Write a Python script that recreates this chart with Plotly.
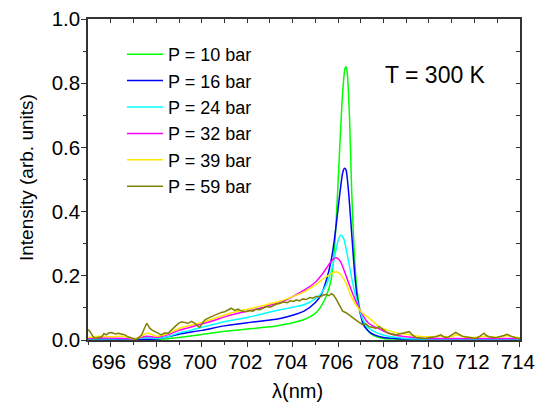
import plotly.graph_objects as go

# ---------------- data ----------------
x_p10 = [695, 696, 697, 698, 698.5, 699, 700, 701, 702, 703, 703.5, 704, 704.5, 705, 705.25, 705.5,
         705.7, 705.8, 705.9, 706.0, 706.1, 706.2, 706.3, 706.35, 706.4, 706.5, 706.6, 706.7, 706.8,
         706.9, 707.0, 707.1, 707.2, 707.4, 707.7, 708, 708.5, 709, 710, 711, 712, 713, 714]
y_p10 = [0.002, 0.001, 0.001, 0.002, 0.004, 0.008, 0.017, 0.027, 0.034, 0.041, 0.047, 0.054, 0.064,
         0.083, 0.105, 0.14, 0.19, 0.25, 0.35, 0.49, 0.64, 0.77, 0.845, 0.851, 0.835, 0.70, 0.46,
         0.29, 0.18, 0.12, 0.08, 0.058, 0.042, 0.022, 0.010, 0.005, 0.003, 0.002, 0.001, 0.001,
         0.001, 0.001, 0.001]

x_p16 = [695, 696, 697, 698, 698.5, 699, 700, 701, 702, 703, 703.5, 704, 704.5, 705, 705.25, 705.5,
         705.7, 705.85, 706.0, 706.1, 706.2, 706.28, 706.35, 706.45, 706.55, 706.65, 706.75, 706.85,
         707.0, 707.1, 707.25, 707.4, 707.6, 708, 708.5, 709, 710, 711, 712, 713, 714]
y_p16 = [0.004, 0.003, 0.002, 0.003, 0.010, 0.018, 0.030, 0.044, 0.054, 0.062, 0.068, 0.077, 0.090,
         0.117, 0.14, 0.19, 0.25, 0.32, 0.41, 0.47, 0.52, 0.535, 0.53, 0.47, 0.38, 0.28, 0.19, 0.13,
         0.075, 0.05, 0.034, 0.024, 0.016, 0.008, 0.005, 0.003, 0.002, 0.002, 0.002, 0.002, 0.002]

x_p24 = [695, 696, 697, 697.6, 698, 698.5, 699, 699.5, 700, 700.5, 701, 701.5, 702, 702.5, 703,
         703.5, 704, 704.5, 705, 705.25, 705.5, 705.7, 705.85, 706.0, 706.12, 706.25, 706.35, 706.5,
         706.65, 706.8, 706.95, 707.1, 707.3, 707.5, 707.8, 708.2, 708.6, 709, 710, 711, 712, 713, 714]
y_p24 = [0.004, 0.004, 0.003, 0.008, 0.005, 0.010, 0.022, 0.030, 0.040, 0.048, 0.057, 0.064, 0.070,
         0.078, 0.087, 0.095, 0.102, 0.110, 0.128, 0.145, 0.175, 0.215, 0.26, 0.31, 0.327, 0.315,
         0.285, 0.23, 0.175, 0.13, 0.092, 0.062, 0.040, 0.030, 0.020, 0.012, 0.008, 0.005, 0.003,
         0.003, 0.003, 0.003, 0.003]

x_p32 = [695, 696, 697, 697.6, 698, 698.5, 699, 699.5, 700, 700.5, 701, 701.5, 702, 702.5, 703,
         703.5, 704, 704.5, 705, 705.25, 705.5, 705.7, 705.91, 706.1, 706.3, 706.47, 706.64, 706.82,
         707.08, 707.3, 707.5, 707.81, 708.2, 708.6, 709, 709.5, 710, 711, 712, 713, 714]
y_p32 = [0.005, 0.006, 0.004, 0.012, 0.008, 0.016, 0.030, 0.040, 0.050, 0.060, 0.072, 0.082, 0.090,
         0.098, 0.108, 0.118, 0.135, 0.155, 0.180, 0.200, 0.225, 0.245, 0.256, 0.245, 0.21, 0.177,
         0.145, 0.115, 0.078, 0.055, 0.045, 0.035, 0.022, 0.014, 0.010, 0.007, 0.005, 0.005, 0.005,
         0.005, 0.005]

x_p39 = [695, 695.5, 696, 696.5, 697, 697.3, 697.6, 698, 698.5, 699, 699.5, 700, 700.5, 701, 701.5,
         702, 702.5, 703, 703.5, 704, 704.5, 705, 705.25, 705.5, 705.7, 705.91, 706.1, 706.35,
         706.55, 706.79, 707.1, 707.37, 707.81, 708.2, 708.6, 709, 709.5, 710, 710.5, 711, 711.2,
         711.5, 712, 712.5, 713, 713.4, 714]
y_p39 = [0.008, 0.012, 0.010, 0.012, 0.004, 0.010, 0.022, 0.012, 0.020, 0.036, 0.046, 0.055, 0.066,
         0.078, 0.088, 0.096, 0.104, 0.113, 0.122, 0.135, 0.150, 0.172, 0.185, 0.198, 0.207, 0.213,
         0.205, 0.177, 0.140, 0.109, 0.082, 0.068, 0.041, 0.030, 0.022, 0.018, 0.012, 0.010, 0.012,
         0.010, 0.016, 0.010, 0.008, 0.012, 0.008, 0.013, 0.006]

x_p59 = [695.0, 695.1, 695.2, 695.3, 695.45, 695.6, 695.7, 695.8, 695.9, 696.04, 696.2, 696.33,
         696.5, 696.62, 696.75, 696.92, 697.05, 697.14, 697.25, 697.36, 697.47, 697.58, 697.65,
         697.72, 697.83, 697.94, 698.05, 698.15, 698.23, 698.35, 698.52, 698.65, 698.82, 698.95,
         699.11, 699.25, 699.4, 699.55, 699.7, 699.8, 699.91, 700.02, 700.13, 700.28, 700.43,
         700.58, 700.72, 700.86, 701.01, 701.15, 701.3, 701.45, 701.6, 701.75, 701.96, 702.1,
         702.25, 702.4, 702.55, 702.69, 702.85, 703.0, 703.15, 703.3, 703.42, 703.6, 703.75, 703.9,
         704.05, 704.16, 704.3, 704.45, 704.6, 704.75, 704.89, 705.05, 705.2, 705.35, 705.47,
         705.6, 705.7, 705.8, 705.91, 706.05, 706.2, 706.35, 706.5, 706.65, 706.79, 706.93, 707.08,
         707.23, 707.37, 707.5, 707.65, 707.81, 707.95, 708.1, 708.25, 708.4, 708.54, 708.7,
         708.83, 708.98, 709.13, 709.28, 709.42, 709.6, 709.86, 710.05, 710.3, 710.52, 710.65,
         710.81, 711.0, 711.18, 711.3, 711.47, 711.6, 711.76, 712.06, 712.25, 712.42, 712.52,
         712.64, 712.93, 713.15, 713.3, 713.44, 713.6, 713.81, 714.0]
y_p59 = [0.033, 0.025, 0.012, 0.005, 0.008, 0.010, 0.020, 0.016, 0.022, 0.023, 0.019, 0.021,
         0.018, 0.016, 0.010, 0.005, 0.003, 0.002, 0.008, 0.016, 0.035, 0.052, 0.045,
         0.036, 0.030, 0.026, 0.020, 0.018, 0.016, 0.022, 0.021, 0.030, 0.041, 0.050,
         0.057, 0.055, 0.052, 0.058, 0.052, 0.045, 0.039, 0.052, 0.062, 0.068, 0.073,
         0.078, 0.083, 0.086, 0.088, 0.094, 0.099, 0.092, 0.096, 0.090, 0.088, 0.092,
         0.090, 0.096, 0.094, 0.099, 0.104, 0.102, 0.108, 0.112, 0.114, 0.118, 0.116, 0.122,
         0.120, 0.125, 0.122, 0.128, 0.126, 0.132, 0.130, 0.136, 0.134, 0.140, 0.142,
         0.138, 0.144, 0.140, 0.128, 0.108, 0.090, 0.085, 0.078, 0.070, 0.062, 0.055, 0.048,
         0.050, 0.041, 0.040, 0.036, 0.042, 0.034, 0.026, 0.020, 0.018, 0.016, 0.019,
         0.021, 0.024, 0.026, 0.015, 0.008, 0.006, 0.005, 0.008, 0.010, 0.016, 0.010,
         0.007, 0.015, 0.024, 0.018, 0.012, 0.010, 0.008, 0.005, 0.012, 0.021, 0.014,
         0.010, 0.007, 0.010, 0.014, 0.018, 0.012, 0.007, 0.005]

series_names = ["P = 10 bar", "P = 16 bar", "P = 24 bar", "P = 32 bar", "P = 39 bar", "P = 59 bar"]
series_x = [x_p10, x_p16, x_p24, x_p32, x_p39, x_p59]
series_y = [y_p10, y_p16, y_p24, y_p32, y_p39, y_p59]
series_colors = ["#00FF00", "#0000FF", "#00FFFF", "#FF00FF", "#FFE800", "#808000"]
series_shapes = ["spline", "spline", "spline", "spline", "spline", "linear"]

x_ticks = [696, 698, 700, 702, 704, 706, 708, 710, 712, 714]
y_ticks = [0.0, 0.2, 0.4, 0.6, 0.8, 1.0]

FONT = "Arial, Liberation Sans, sans-serif"

W, H, L, R, T, B = 536, 403, 88, 16, 19, 63
pw, ph = W - L - R, H - T - B


def px_to_paper(px, py):
    return (px - L) / pw, (H - B - py) / ph


fig = go.Figure()
for name, xs, ys, col, shp in zip(series_names, series_x, series_y, series_colors, series_shapes):
    line = dict(color=col, width=1.5, shape=shp)
    if shp == "spline":
        line["smoothing"] = 0.6
    fig.add_trace(go.Scatter(x=xs, y=ys, mode="lines", name=name, line=line))

axis_col = "#333333"
leg_x, leg_y = px_to_paper(122, 36)
t_x, t_y = px_to_paper(435, 75)
ax_x, ax_y = px_to_paper(297, 391)
ay_x, ay_y = px_to_paper(26, 178)

fig.update_layout(
    width=W, height=H,
    margin=dict(l=L, r=R, t=T, b=B),
    paper_bgcolor="white", plot_bgcolor="white",
    font=dict(family=FONT, color="black", size=19),
    showlegend=True,
    legend=dict(
        x=leg_x, y=leg_y, xanchor="left", yanchor="top",
        bgcolor="rgba(0,0,0,0)", font=dict(size=18, family=FONT),
        itemwidth=36, tracegroupgap=0,
    ),
    xaxis=dict(
        range=[694.995, 714.005], tickvals=x_ticks, ticks="outside", ticklen=5, tickwidth=1.3,
        tickcolor=axis_col, showline=True, linecolor=axis_col, linewidth=1.5,
        showgrid=False, zeroline=False, automargin=False, ticklabeloverflow="allow",
        ticklabelstandoff=-2, ticklabelshift=-2,
        minor=dict(dtick=1, ticks="outside", ticklen=3, tickwidth=1.2, tickcolor=axis_col),
        tickfont=dict(size=20.5),
    ),
    yaxis=dict(
        range=[0, 1.0], tickvals=y_ticks, tickformat=".1f", ticks="outside", ticklen=5,
        tickwidth=1.3, tickcolor=axis_col, showline=True, linecolor=axis_col, linewidth=1.5,
        showgrid=False, zeroline=False, automargin=False, ticklabelstandoff=-3,
        minor=dict(dtick=0.1, ticks="outside", ticklen=3, tickwidth=1.2, tickcolor=axis_col),
        tickfont=dict(size=20.5),
    ),
    xaxis2=dict(
        overlaying="x", side="top", range=[694.995, 714.005], dtick=1, tick0=695, ticks="inside",
        ticklen=4, tickwidth=1.2, tickcolor=axis_col, showticklabels=False, showline=True,
        linecolor=axis_col, linewidth=1.5, showgrid=False, zeroline=False, automargin=False,
    ),
    yaxis2=dict(
        overlaying="y", side="right", range=[0, 1.0], dtick=0.1, tick0=0, ticks="inside",
        ticklen=4, tickwidth=1.2, tickcolor=axis_col, showticklabels=False, showline=True,
        linecolor=axis_col, linewidth=1.5, showgrid=False, zeroline=False, automargin=False,
    ),
)
fig.add_annotation(x=t_x, y=t_y, xref="paper", yref="paper", text="T = 300 K", showarrow=False,
                   font=dict(size=23, family=FONT, color="black"), xanchor="center", yanchor="middle")
fig.add_annotation(x=ax_x, y=ax_y, xref="paper", yref="paper", text="λ(nm)", showarrow=False,
                   font=dict(size=20, family=FONT, color="black"), xanchor="center", yanchor="middle")
fig.add_annotation(x=ay_x, y=ay_y, xref="paper", yref="paper", text="Intensity (arb. units)",
                   showarrow=False, textangle=-90,
                   font=dict(size=19, family=FONT, color="black"), xanchor="center", yanchor="middle")

# invisible trace to activate the mirror axes (top / right, ticks inside)
fig.add_trace(go.Scatter(x=[695], y=[0], xaxis="x2", yaxis="y2", mode="lines",
                         showlegend=False, hoverinfo="skip", line=dict(color="rgba(0,0,0,0)")))

fig.write_html("out.html", config={"displayModeBar": False},
               post_script="document.body.style.margin='0px';document.body.style.overflow='hidden';")
